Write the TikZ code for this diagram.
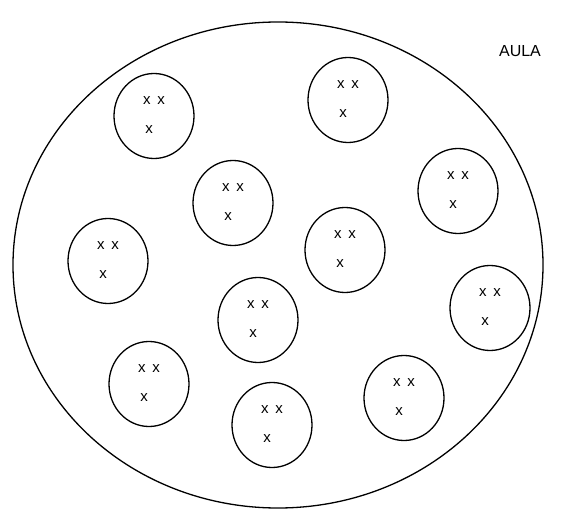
\documentclass[tikz,border=0pt]{standalone}
\usepackage{fontspec}
\setmainfont{Liberation Sans}
\usetikzlibrary{shapes.geometric}
\begin{document}
\begin{tikzpicture}[x=1pt,y=-1pt,
  grp/.style={draw,line width=1.3pt,ellipse,minimum width=80pt,minimum height=85pt,inner sep=0pt},
  xx/.style={font=\fontsize{15}{15}\selectfont,inner sep=0pt}]
\useasboundingbox (0,0) rectangle (565,510);
\node[draw,line width=1.3pt,ellipse,minimum width=530pt,minimum height=486pt,inner sep=0pt] (aula) at (278,265) {};
\node[font=\fontsize{16}{16}\selectfont,inner sep=0pt] (lab) at (520,51) {AULA};
\foreach \n/\cx/\cy in {a/154/116, b/348/100, c/233/203, d/458/191, e/108/261, f/345/250, g/258/320, h/490/308, i/149/384, j/272/425, k/404/398}{
  \node[grp] (\n) at (\cx,\cy) {};
  \node[xx] (\n1) at ([yshift=15pt]\n.center) {x\hspace{7pt}x};
  \node[xx] (\n2) at ([xshift=-5pt,yshift=-14pt]\n.center) {x};
}
\end{tikzpicture}
\end{document}
